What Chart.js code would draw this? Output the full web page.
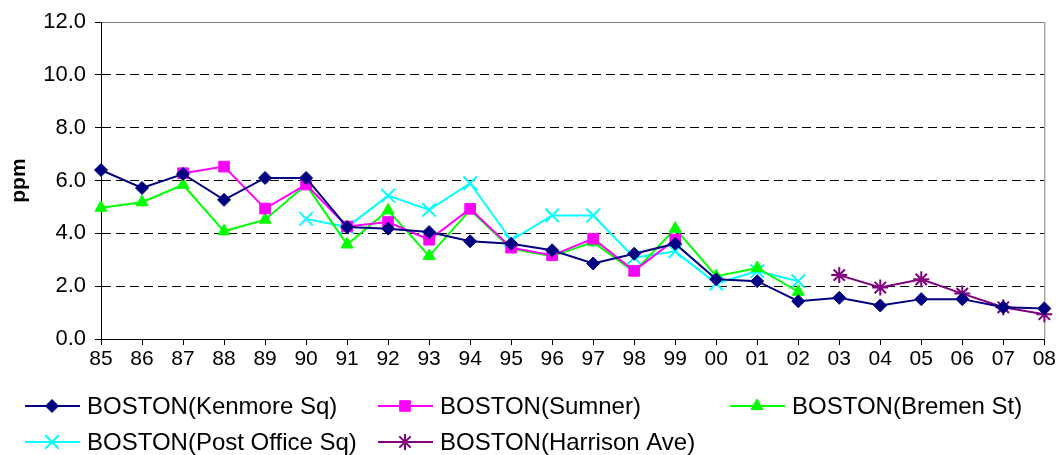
<!DOCTYPE html>
<html>
<head>
<meta charset="utf-8">
<script src="https://cdn.jsdelivr.net/npm/chart.js@4/dist/chart.umd.min.js"></script>
<style>
  html, body { margin: 0; padding: 0; background: #ffffff; }
  #wrap { width: 1058px; height: 455px; position: relative; }
</style>
</head>
<body>
<div id="wrap"><canvas id="chart" width="1058" height="455"></canvas></div>
<script>
// Years of record (two-digit labels)
const years = ['85','86','87','88','89','90','91','92','93','94','95','96','97','98','99','00','01','02','03','04','05','06','07','08'];

// Annual values (ppm) per monitoring site; null where the site did not report
const kenmoreSq = [6.40, 5.72, 6.25, 5.27, 6.10, 6.10, 4.24, 4.18, 4.05, 3.70, 3.61, 3.36, 2.86, 3.23, 3.61, 2.26, 2.19, 1.43, 1.56, 1.27, 1.51, 1.51, 1.20, 1.16];
const sumner     = [null, null, 6.28, 6.53, 4.94, 5.85, 4.26, 4.43, 3.76, 4.93, 3.46, 3.17, 3.80, 2.58, 3.77, null, null, null, null, null, null, null, null, null];
const bremenSt   = [4.97, 5.18, 5.84, 4.08, 4.52, 5.84, 3.58, 4.87, 3.14, 4.89, 3.42, 3.14, 3.67, 2.54, 4.18, 2.38, 2.69, 1.79, null, null, null, null, null, null];
const postOffice = [null, null, null, null, null, 4.55, 4.24, 5.43, 4.89, 5.90, 3.74, 4.68, 4.68, 3.08, 3.32, 2.10, 2.57, 2.19, null, null, null, null, null, null];
const harrison   = [null, null, null, null, null, null, null, null, null, null, null, null, null, null, null, null, null, null, 2.42, 1.95, 2.26, 1.72, 1.20, 0.94];

// Axis range
const yMin = 0, yMax = 12, yStep = 2;

const FONT = '"Liberation Sans", Arial, sans-serif';

function series(label, data, color, style, radius, bw) {
  return {
    label, data,
    borderColor: color,
    backgroundColor: color,
    pointBackgroundColor: color,
    pointBorderColor: color,
    pointStyle: style,
    pointRadius: radius,
    pointHoverRadius: radius,
    pointBorderWidth: bw,
    borderWidth: 2,
    tension: 0,
    spanGaps: false
  };
}

const datasets = [
  series('BOSTON(Kenmore Sq)', kenmoreSq, '#000080', 'rectRot', 6.5, 1),
  series('BOSTON(Sumner)', sumner, '#FF00FF', 'rect', 7.5, 1),
  series('BOSTON(Bremen St)', bremenSt, '#00FF00', 'triangle', 7, 1),
  series('BOSTON(Post Office Sq)', postOffice, '#00FFFF', 'crossRot', 9.5, 2),
  series('BOSTON(Harrison Ave)', harrison, '#800080', 'star', 8, 2)
];

// Legend laid out as a two-row grid below the x axis
const legendGrid = {
  id: 'legendGrid',
  afterDraw(chart) {
    const ctx = chart.ctx;
    const cols = [25, 378, 730];
    const rows = [406, 442];
    ctx.save();
    chart.data.datasets.forEach((ds, i) => {
      const x0 = cols[i % 3];
      const y = rows[Math.floor(i / 3)];
      ctx.strokeStyle = ds.borderColor;
      ctx.fillStyle = ds.borderColor;
      ctx.lineWidth = 2;
      ctx.setLineDash([]);
      ctx.beginPath();
      ctx.moveTo(x0, y);
      ctx.lineTo(x0 + 55, y);
      ctx.stroke();
      ctx.lineWidth = ds.pointBorderWidth;
      Chart.helpers.drawPoint(ctx, {
        pointStyle: ds.pointStyle,
        radius: ds.pointRadius,
        rotation: 0,
        borderWidth: ds.pointBorderWidth
      }, x0 + 27, y);
      ctx.fillStyle = '#000000';
      ctx.font = '24px ' + FONT;
      ctx.textBaseline = 'middle';
      ctx.textAlign = 'left';
      ctx.fillText(ds.label, x0 + 62, y + 1);
    });
    ctx.restore();
  }
};

// Gray frame on the right edge of the plot area
const plotFrame = {
  id: 'plotFrame',
  beforeDatasetsDraw(chart) {
    const { ctx, chartArea: a } = chart;
    ctx.save();
    ctx.strokeStyle = '#808080';
    ctx.lineWidth = 1;
    ctx.beginPath();
    ctx.moveTo(a.right + 0.5, a.top);
    ctx.lineTo(a.right + 0.5, a.bottom);
    ctx.stroke();
    ctx.restore();
  }
};

new Chart(document.getElementById('chart'), {
  type: 'line',
  data: { labels: years, datasets },
  plugins: [legendGrid, plotFrame],
  options: {
    responsive: false,
    animation: false,
    events: [],
    layout: { padding: { left: 0, top: 21, right: 13, bottom: 0 } },
    plugins: {
      legend: { display: false },
      tooltip: { enabled: false }
    },
    scales: {
      x: {
        offset: false,
        afterFit(scale) { scale.height = 116; },
        grid: {
          drawOnChartArea: false,
          tickLength: 6,
          tickColor: '#000000',
          color: '#000000'
        },
        border: { display: true, color: '#000000', width: 1 },
        ticks: {
          color: '#000000',
          font: { family: FONT, size: 21 },
          padding: 2,
          maxRotation: 0,
          autoSkip: false
        }
      },
      y: {
        min: yMin,
        max: yMax,
        afterFit(scale) { scale.width = 101; },
        grid: {
          tickLength: 6,
          tickColor: '#000000',
          color(ctx) {
            const v = ctx.tick ? ctx.tick.value : null;
            if (v === yMin) return 'rgba(0,0,0,0)';
            if (v === yMax) return '#808080';
            return '#000000';
          },
          lineWidth: 1
        },
        border: {
          display: true,
          color: '#000000',
          width: 1,
          dash(ctx) {
            const v = ctx.tick ? ctx.tick.value : null;
            return v === yMax ? [] : [9, 5];
          }
        },
        ticks: {
          stepSize: yStep,
          color: '#000000',
          font: { family: FONT, size: 22 },
          padding: 9,
          callback: (v) => Number(v).toFixed(1)
        },
        title: {
          display: true,
          text: 'ppm',
          color: '#000000',
          font: { family: FONT, size: 21, weight: 'bold' },
          padding: { top: 7, bottom: 0 }
        }
      }
    }
  }
});
</script>
</body>
</html>
